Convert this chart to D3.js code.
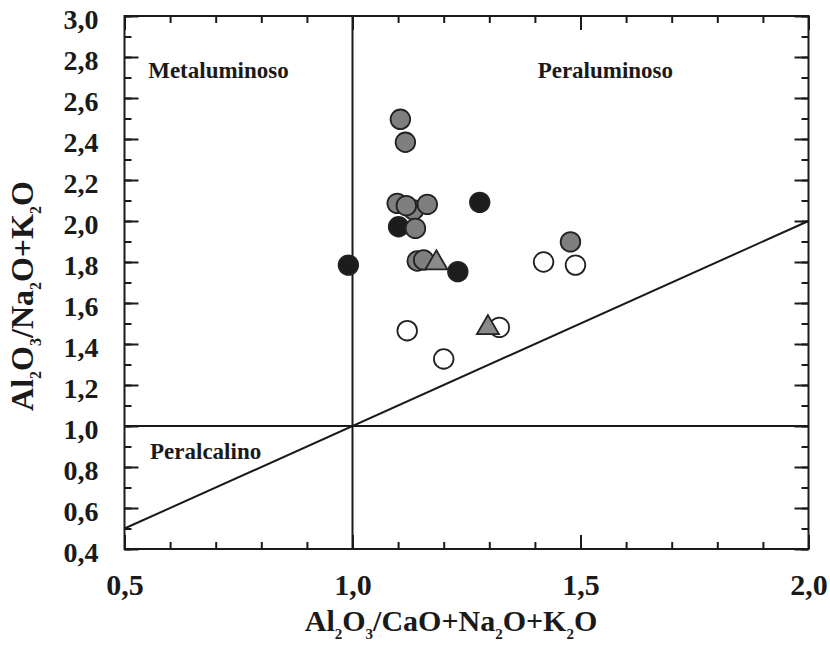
<!DOCTYPE html>
<html>
<head>
<meta charset="utf-8">
<script src="https://cdn.jsdelivr.net/npm/d3@7"></script>
<style>
  body { margin: 0; background: #fff; }
  text { font-family: "Liberation Serif", "Times New Roman", serif; font-weight: bold; fill: #1a1a1a; }
</style>
</head>
<body>
<div id="chart"></div>
<script>
// data
const grayCircles = [
  [1.105, 2.496], [1.116, 2.384], [1.098, 2.086], [1.134, 2.054],
  [1.118, 2.075], [1.164, 2.081], [1.138, 1.964], [1.142, 1.805],
  [1.156, 1.810], [1.478, 1.898]
];
const blackCircles = [
  [1.101, 1.972], [1.279, 2.091], [0.991, 1.785], [1.231, 1.753]
];
const openCircles = [
  [1.419, 1.800], [1.489, 1.785], [1.120, 1.465], [1.200, 1.327], [1.322, 1.481]
];
const grayTriangles = [
  [1.184, 1.795], [1.297, 1.479]
];
const xMajor = [0.5, 1.0, 1.5, 2.0];
const yMajor = [0.4, 0.6, 0.8, 1.0, 1.2, 1.4, 1.6, 1.8, 2.0, 2.2, 2.4, 2.6, 2.8, 3.0];
const xMinor = d3.range(5, 21).map(d => d / 10);
const yMinor = d3.range(4, 31).map(d => d / 10);
const regions = [
  { label: "Metaluminoso", x: 0.552, y: 2.70 },
  { label: "Peraluminoso", x: 1.406, y: 2.70 },
  { label: "Peralcalino", x: 0.556, y: 0.84 }
];

const margin = { top: 16, right: 21.5, bottom: 100, left: 124.5 },
      width = 830 - margin.left - margin.right,
      height = 649 - margin.top - margin.bottom;

const svg = d3.select("#chart")
    .append("svg")
    .attr("width", 830)
    .attr("height", 649)
    .append("g")
    .attr("transform", `translate(${margin.left},${margin.top})`);

const x = d3.scaleLinear().domain([0.5, 2.0]).range([0, width]);
const y = d3.scaleLinear().domain([0.4, 3.0]).range([height, 0]);
const fmt = d => d3.format(".1f")(d).replace(".", ",");

const ink = "#1a1a1a";

function styleAxis(g) {
  g.select(".domain").remove();
  g.selectAll(".tick line").attr("stroke", ink).attr("stroke-width", 2);
}

// minor ticks, all four sides, pointing inward
svg.append("g").attr("transform", `translate(0,${height})`)
    .call(d3.axisBottom(x).tickValues(xMinor).tickSize(-7).tickFormat("")).call(styleAxis);
svg.append("g")
    .call(d3.axisTop(x).tickValues(xMinor).tickSize(-7).tickFormat("")).call(styleAxis);
svg.append("g")
    .call(d3.axisLeft(y).tickValues(yMinor).tickSize(-7).tickFormat("")).call(styleAxis);
svg.append("g").attr("transform", `translate(${width},0)`)
    .call(d3.axisRight(y).tickValues(yMinor).tickSize(-7).tickFormat("")).call(styleAxis);

// major ticks with labels
svg.append("g").attr("transform", `translate(0,${height})`)
    .call(d3.axisBottom(x).tickValues(xMajor).tickSize(-14).tickPadding(25).tickFormat(fmt))
    .call(styleAxis)
    .selectAll("text").style("font-size", "30px");
svg.append("g")
    .call(d3.axisTop(x).tickValues(xMajor).tickSize(-14).tickFormat("")).call(styleAxis);
svg.append("g")
    .call(d3.axisLeft(y).tickValues(yMajor).tickSize(-14).tickPadding(26).tickFormat(fmt))
    .call(styleAxis)
    .selectAll("text").style("font-size", "28px").attr("dy", "0.45em");
svg.append("g").attr("transform", `translate(${width},0)`)
    .call(d3.axisRight(y).tickValues(yMajor).tickSize(-14).tickFormat("")).call(styleAxis);

// frame
svg.append("rect")
    .attr("width", width).attr("height", height)
    .attr("fill", "none").attr("stroke", ink).attr("stroke-width", 2);

// divider lines
svg.append("line")
    .attr("x1", x(1)).attr("x2", x(1)).attr("y1", 0).attr("y2", height)
    .attr("stroke", ink).attr("stroke-width", 2);
svg.append("line")
    .attr("x1", 0).attr("x2", width).attr("y1", y(1)).attr("y2", y(1))
    .attr("stroke", ink).attr("stroke-width", 2);
svg.append("line")
    .attr("x1", x(0.5)).attr("y1", y(0.5)).attr("x2", x(2)).attr("y2", y(2))
    .attr("stroke", ink).attr("stroke-width", 2);

// region labels
svg.selectAll(".region")
    .data(regions)
    .enter()
    .append("text")
    .attr("class", "region")
    .attr("x", d => x(d.x))
    .attr("y", d => y(d.y))
    .style("font-size", "23px")
    .text(d => d.label);

// points
function drawCircles(data, fill) {
  svg.append("g").selectAll("circle")
      .data(data)
      .enter()
      .append("circle")
      .attr("cx", d => x(d[0]))
      .attr("cy", d => y(d[1]))
      .attr("r", 9.8)
      .attr("fill", fill)
      .attr("stroke", "#222")
      .attr("stroke-width", 1.8);
}
drawCircles(openCircles, "#fff");
drawCircles(blackCircles, "#1c1c1c");
drawCircles(grayCircles, "#7f7f7f");

svg.append("g").selectAll("path")
    .data(grayTriangles)
    .enter()
    .append("path")
    .attr("d", d3.symbol(d3.symbolTriangle, 210))
    .attr("transform", d => `translate(${x(d[0])},${y(d[1])})`)
    .attr("fill", "#8a8a8a")
    .attr("stroke", "#222")
    .attr("stroke-width", 1.8);

// axis titles with subscripts; a number in parts is a subscript
function subText(sel, parts, size) {
  const shift = size * 0.25;
  let down = false;
  parts.forEach(p => {
    const isSub = typeof p === "number";
    let dy = 0;
    if (isSub && !down) { dy = shift; down = true; }
    if (!isSub && down) { dy = -shift; down = false; }
    sel.append("tspan")
        .attr("dy", dy)
        .style("font-size", isSub ? (size * 0.5) + "px" : size + "px")
        .text(String(p));
  });
}

const xTitle = svg.append("text")
    .attr("x", 451 - margin.left)
    .attr("y", 631 - margin.top)
    .attr("text-anchor", "middle");
subText(xTitle, ["Al", 2, "O", 3, "/CaO+Na", 2, "O+K", 2, "O"], 30);

const yTitle = svg.append("text")
    .attr("transform", `translate(${33 - margin.left},${296 - margin.top}) rotate(-90)`)
    .attr("text-anchor", "middle");
subText(yTitle, ["Al", 2, "O", 3, "/Na", 2, "O+K", 2, "O"], 32);
</script>
</body>
</html>
